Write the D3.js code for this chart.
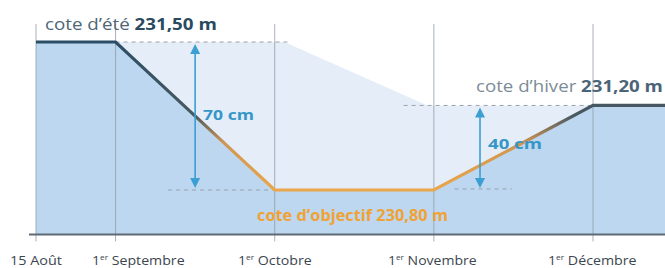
<!DOCTYPE html>
<html><head><meta charset="utf-8">
<script src="https://cdn.jsdelivr.net/npm/d3@7"></script>
<style>
html,body{margin:0;padding:0;background:#fff;overflow:hidden}
svg{display:block}
text{font-family:"Open Sans",sans-serif}
</style></head>
<body>
<svg id="c" width="665" height="268"></svg>
<script>
// ---- data ----
const tickLabels = ["15 Août", "1er Septembre", "1er Octobre", "1er Novembre", "1er Décembre"];
const tickMonths = [0, 0.5, 1.5, 2.5, 3.5];
const levelMonths = [0, 0.5, 1.5, 2.5, 3.5, 4];
const levels = [231.50, 231.50, 230.80, 230.80, 231.20, 231.20];
const envelopeMonths = [0.5, 1.56, 2.46, 3.5];
const envelopeLevels = [231.50, 231.50, 231.20, 231.20];
const dropMonths = [1.0, 2.79];
const dropFrom = [231.50, 231.20];
const dropTo = [230.80, 230.80];
const dropLabels = ["70 cm", "40 cm"];
const baseLevel = 230.59;

// ---- layout ----
const svg = d3.select("#c");
const x = d3.scaleLinear().domain([0, 3.5]).range([36, 593]);
const y = d3.scaleLinear().domain([230.8, 231.5]).range([190, 42]);
const yB = y(baseLevel);

// horizontally fit a text element to span [x0, x1]
function fit(t, x0, x1) {
  const node = t.node();
  const b = node.getBBox();
  const sx = (x1 - x0) / b.width;
  t.attr("transform", `translate(${x0},0) scale(${sx},1) translate(${-b.x},0)`);
}

const defs = svg.append("defs");
const g = defs.append("linearGradient").attr("id","lg").attr("gradientUnits","userSpaceOnUse")
  .attr("x1",0).attr("x2",0).attr("y1",y(231.5)).attr("y2",y(230.8));
g.append("stop").attr("offset",0).attr("stop-color","#2b4d66");
g.append("stop").attr("offset",0.5).attr("stop-color","#4a5961");
g.append("stop").attr("offset",0.68).attr("stop-color","#cf9552");
g.append("stop").attr("offset",1).attr("stop-color","#eaa64a");

const lvl = levelMonths.map((m,i)=>({m, v: levels[i]}));
const env = envelopeMonths.map((m,i)=>({m, v: envelopeLevels[i]}));

// light envelope area: between envelope and level line
const inner = lvl.filter(d => d.m >= 0.5 && d.m <= 3.5);
const envPoly = env.concat(inner.slice().reverse());
svg.append("path")
  .attr("d", d3.line().x(d=>x(d.m)).y(d=>y(d.v))(envPoly) + "Z")
  .attr("fill","#e4edf8");

// main area
svg.append("path")
  .attr("d", d3.area().x(d=>x(d.m)).y0(yB).y1(d=>y(d.v))(lvl))
  .attr("fill","#bcd7ef");

// gridlines
svg.selectAll("line.grid").data(tickMonths).join("line")
  .attr("x1",d=>x(d)).attr("x2",d=>x(d)).attr("y1",24).attr("y2",yB+7)
  .attr("stroke","#8d99a3").attr("stroke-opacity",0.75).attr("stroke-width",1);

// axis baseline
svg.append("line").attr("x1",29).attr("x2",665).attr("y1",yB).attr("y2",yB)
  .attr("stroke","#5f6b74").attr("stroke-width",2);

// dashed reference lines
const dashes = [
  {m0: 0.5, m1: 1.58, v: 231.50},
  {m0: 0.83, m1: 1.5, v: 230.80},
  {m0: 2.31, m1: 3.5, v: 231.20},
  {m0: 2.63, m1: 2.99, v: 230.805}
];
svg.selectAll("line.dash").data(dashes).join("line")
  .attr("x1",d=>x(d.m0)).attr("x2",d=>x(d.m1)).attr("y1",d=>y(d.v)).attr("y2",d=>y(d.v))
  .attr("stroke","#9aa3ab").attr("stroke-width",1).attr("stroke-dasharray","4,4");

// level line
svg.append("path")
  .attr("d", d3.line().x(d=>x(d.m)).y(d=>y(d.v))(lvl))
  .attr("fill","none").attr("stroke","url(#lg)").attr("stroke-width",3.2).attr("stroke-linejoin","miter");

// arrows
const ac = "#3b9fd2";
dropMonths.forEach((m,i) => {
  const xx = x(m), y1 = y(dropFrom[i])+2, y2 = y(dropTo[i])-2;
  svg.append("line").attr("x1",xx).attr("x2",xx).attr("y1",y1+6).attr("y2",y2-6)
    .attr("stroke",ac).attr("stroke-width",1.6);
  svg.append("path").attr("d",`M${xx},${y1} L${xx-5},${y1+10} L${xx+5},${y1+10}Z`).attr("fill",ac);
  svg.append("path").attr("d",`M${xx},${y2} L${xx-5},${y2-10} L${xx+5},${y2-10}Z`).attr("fill",ac);
});
const dl0 = svg.append("text").attr("y",120).attr("font-size",15).attr("font-weight",700)
  .attr("fill","#3696c8").text(dropLabels[0]);
fit(dl0, 203, 254);
const dl1 = svg.append("text").attr("y",149).attr("font-size",15).attr("font-weight",700)
  .attr("fill","#3696c8").text(dropLabels[1]);
fit(dl1, 488, 542);

// level labels
const t1 = svg.append("text").attr("y",30).attr("font-size",16);
t1.append("tspan").attr("fill","#4e6676").text("cote d’été ");
t1.append("tspan").attr("fill","#2a4a60").attr("font-weight",700).text("231,50 m");
fit(t1, 45, 217);

const t2 = svg.append("text").attr("y",92).attr("font-size",16);
t2.append("tspan").attr("fill","#7c8c97").text("cote d’hiver ");
t2.append("tspan").attr("fill","#4b6478").attr("font-weight",700).text("231,20 m");
fit(t2, 476, 663);

const t3 = svg.append("text").attr("y",221).attr("font-size",16).attr("font-weight",700)
  .attr("fill","#f0a234").text("cote d’objectif 230,80 m");
fit(t3, 257, 448);

// x tick labels
const tickSpans = [[10,62],[92,185],[238,312],[388,477],[548,637]];
svg.selectAll("text.tick").data(tickLabels).join("text")
  .attr("class","tick").attr("y",265).attr("font-size",12).attr("fill","#3c4650")
  .each(function(d,i){
    const s = d3.select(this);
    const m = d.match(/^(1)(er)(.*)$/);
    if (m) {
      s.append("tspan").text(m[1]);
      s.append("tspan").attr("font-size",7).attr("dy",-5).text(m[2]);
      s.append("tspan").attr("dy",5).text(m[3]);
    } else s.text(d);
    fit(s, tickSpans[i][0], tickSpans[i][1]);
  });
</script>
</body></html>
